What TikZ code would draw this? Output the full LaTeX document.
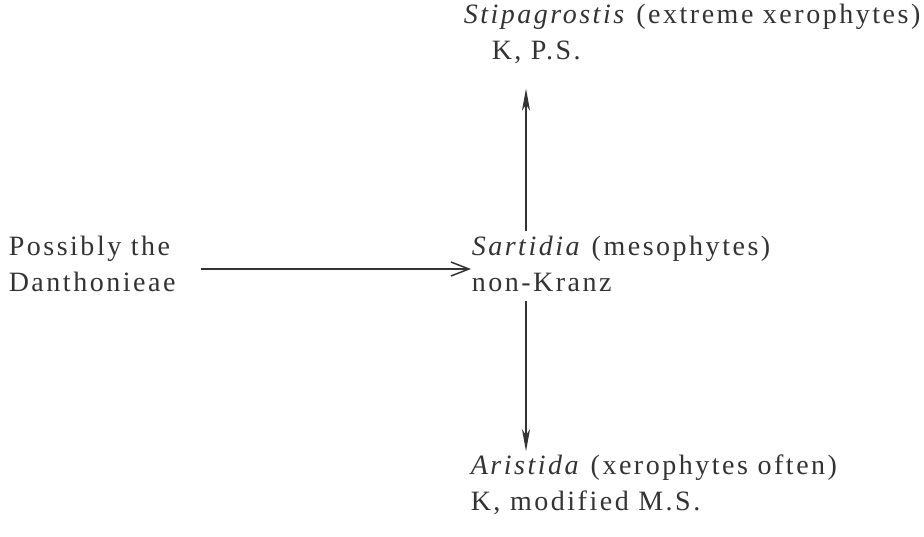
\documentclass[tikz,border=0pt]{standalone}
\usepackage{fontspec}
\setmainfont{Liberation Serif}[LetterSpace=9]
\usetikzlibrary{arrows.meta}
\usetikzlibrary{positioning}
\tikzset{every picture/.style={line width=0.75pt}}
\tikzset{taxon/.style={anchor=west, align=left, inner sep=0pt, text=black!80,
  font=\fontsize{14}{18}\selectfont}}

\begin{document}
\begin{tikzpicture}[x=0.5pt, y=-0.5pt]
\useasboundingbox (0,0) rectangle (924,536);
\node[taxon] (danth) at (8,264) {Possibly the\\Danthonieae};
\node[taxon] (sartidia) at (471,264) {\textit{Sartidia} (mesophytes)\\non-Kranz};
\node[taxon] (stipa) at (463,34) {\textit{Stipagrostis} (extreme xerophytes)\\\hspace*{14pt}K, P.S.};
\node[taxon] (aristida) at (470,485) {\textit{Aristida} (xerophytes often)\\K, modified M.S.};
\coordinate (spine) at (526,264);

\draw[black!80, -{Straight Barb[length=9pt, width=7pt]}, shorten <=12.5pt] ([yshift=-2.5pt]danth.east) -- ([yshift=-2.5pt]sartidia.west);
\draw[black!80, -{Stealth[length=11pt, width=4pt, inset=3pt]}, shorten <=2pt, shorten >=12pt] (spine |- sartidia.north) -- (spine |- stipa.south);
\draw[black!80, -{Stealth[length=11pt, width=4pt, inset=3pt]}, shorten <=4pt, shorten >=1.5pt] (spine |- sartidia.south) -- (spine |- aristida.north);
\end{tikzpicture}
\end{document}
